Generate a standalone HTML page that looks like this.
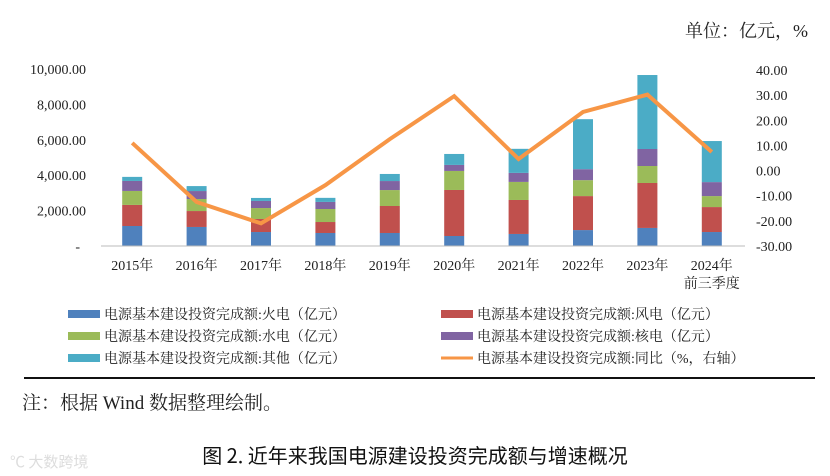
<!DOCTYPE html>
<html><head><meta charset="utf-8">
<style>
body{margin:0;background:#fff;width:830px;height:476px;overflow:hidden;}
svg{position:absolute;left:0;top:0;font-family:"Liberation Serif","Noto Serif CJK SC",serif;}
</style></head>
<body>
<svg id="chart" width="830" height="476" xmlns="http://www.w3.org/2000/svg">
<text x="808" y="37" text-anchor="end" font-size="18" fill="#222">单位：亿元，%</text>
<g id="bars"></g>
<g id="axes"></g>
<line x1="24" y1="378" x2="815" y2="378" stroke="#111" stroke-width="2"/>
<text x="22" y="409" font-size="19" fill="#222">注：根据 Wind 数据整理绘制。</text>
<text x="415" y="463" text-anchor="middle" font-size="20" fill="#111" font-family="'Noto Sans CJK SC',sans-serif">图 2. 近年来我国电源建设投资完成额与增速概况</text>
<text x="10" y="467" font-size="15" fill="#ddd" font-family="'Noto Sans CJK SC',sans-serif">℃ 大数跨境</text>
</svg>
<script>
const categories=["2015年","2016年","2017年","2018年","2019年","2020年","2021年","2022年","2023年","2024年"];
const thermal=[1130,1075,790,735,735,565,680,900,1020,790];
const wind=[1190,900,735,620,1525,2600,1920,1920,2540,1410];
const hydro=[790,680,620,735,900,1075,1020,900,960,620];
const nuclear=[565,450,400,400,510,340,510,620,960,790];
const other=[230,280,170,230,400,620,1360,2825,4180,2320];
const yoy=[11,-12.5,-21,-5.8,12.5,29.6,4.6,23.3,30.2,7.4];
const leftTicks=[0,2000,4000,6000,8000,10000];
const leftTickLabels=["-","2,000.00","4,000.00","6,000.00","8,000.00","10,000.00"];
const rightTicks=[-30,-20,-10,0,10,20,30,40];
const seriesNames=["电源基本建设投资完成额:火电（亿元）","电源基本建设投资完成额:风电（亿元）","电源基本建设投资完成额:水电（亿元）","电源基本建设投资完成额:核电（亿元）","电源基本建设投资完成额:其他（亿元）","电源基本建设投资完成额:同比（%，右轴）"];

const NS="http://www.w3.org/2000/svg";
const X0=101,X1=745,Y0=246,YT=69;
const yL=v=>Y0-(v/10000)*(Y0-YT);
const yR=v=>Y0-((v+30)/70)*(Y0-70);
const band=(X1-X0)/categories.length;
const xC=i=>X0+band*(i+0.5)-1;
function mk(tag,attrs,parent){const e=document.createElementNS(NS,tag);for(const k in attrs)e.setAttribute(k,attrs[k]);parent.appendChild(e);return e;}
const bars=document.getElementById('bars'),axes=document.getElementById('axes');
const series=[thermal,wind,hydro,nuclear,other];
const colors=["#4f81bd","#c0504d","#9bbb59","#8064a2","#4bacc6"];
const keys=["thermal","wind","hydro","nuclear","other"];
categories.forEach((c,i)=>{
  let acc=0;
  series.forEach((s,k)=>{
    const r=mk('rect',{x:xC(i)-10,y:yL(acc+s[i]),width:20,height:yL(acc)-yL(acc+s[i]),fill:colors[k]},bars);
    
    
    acc+=s[i];
  });
  const t=mk('text',{x:xC(i),y:270,'text-anchor':'middle','font-size':14,fill:'#222'},axes);
  t.textContent=c;
  
  
});
const t2=mk('text',{x:xC(9),y:288,'text-anchor':'middle','font-size':14,fill:'#222'},axes);
t2.textContent="前三季度";


const ax=mk('line',{x1:X0,y1:Y0,x2:X1,y2:Y0,stroke:'#bbb','stroke-width':1},axes);


leftTicks.forEach((v,i)=>{
  const t=mk('text',{x:v===0?80:86,y:yL(v)+5,'text-anchor':'end','font-size':14,fill:'#222'},axes);
  t.textContent=leftTickLabels[i];
  
  
});
rightTicks.forEach(v=>{
  const t=mk('text',{x:756,y:yR(v)+5,'font-size':14,fill:'#222'},axes);
  t.textContent=v.toFixed(2);
  
  
});
const pl=mk('polyline',{points:yoy.map((v,i)=>xC(i)+','+yR(v)).join(' '),fill:'none',stroke:'#f79646','stroke-width':4,'stroke-linejoin':'miter'},bars);


const lcolors=colors.concat(["#f79646"]);
seriesNames.forEach((n,k)=>{
  const col=k%2,row=Math.floor(k/2);
  const lx=col?441:68,ly=314+row*22;
  const g=mk('g',{},axes);
  
  
  if(k<5) mk('rect',{x:lx,y:ly-4,width:32,height:8,fill:lcolors[k]},g);
  else mk('rect',{x:lx,y:ly-1.5,width:32,height:3,fill:lcolors[k]},g);
  const t=mk('text',{x:lx+36,y:ly+5,'font-size':14,fill:'#222'},g);
  t.textContent=n;
});
</script>
</body></html>
